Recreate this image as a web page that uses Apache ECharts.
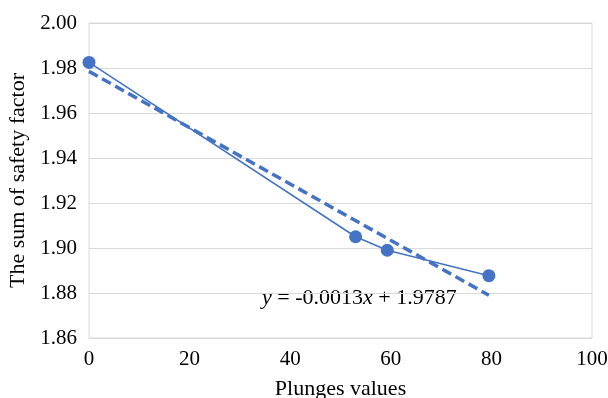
<!DOCTYPE html>
<html>
<head>
<meta charset="utf-8">
<script src="https://cdn.jsdelivr.net/npm/echarts@6/dist/echarts.min.js"></script>
<style>
  html, body { margin: 0; padding: 0; background: #fff; }
  #chart { width: 608px; height: 398px; }
</style>
</head>
<body>
<div id="chart"></div>
<script>
const plungeX = [0, 53, 59.3, 79.5]
const safetySum = [1.9825, 1.905, 1.899, 1.8877]
const trendX = [0, 79.5]
const trendY = [1.9785, 1.879]
const xTicks = [0, 20, 40, 60, 80, 100]
const yTicks = [1.86, 1.88, 1.90, 1.92, 1.94, 1.96, 1.98, 2.00]

const blue = '#4472c4'
const font = '"Liberation Serif", "Times New Roman", serif'

const chart = echarts.init(document.getElementById('chart'))
chart.setOption({
  animation: false,
  textStyle: { fontFamily: font },
  grid: {
    left: 89, right: 16, top: 23, bottom: 60, outerBoundsMode: 'none',
    show: true, borderColor: '#d9d9d9', borderWidth: 1
  },
  xAxis: {
    type: 'value', min: xTicks[0], max: xTicks[xTicks.length - 1], interval: 20,
    name: 'Plunges values', nameLocation: 'middle', nameGap: 40,
    nameTextStyle: { fontFamily: font, fontSize: 22, color: '#000' },
    axisLine: { show: false }, axisTick: { show: false },
    axisLabel: { fontFamily: font, fontSize: 21, color: '#000', margin: 11 },
    splitLine: { show: false }
  },
  yAxis: {
    type: 'value', min: yTicks[0], max: yTicks[yTicks.length - 1], interval: 0.02,
    name: 'The sum of safety factor', nameLocation: 'middle', nameGap: 58,
    nameTextStyle: { fontFamily: font, fontSize: 22, color: '#000' },
    axisLine: { show: false }, axisTick: { show: false },
    axisLabel: { fontFamily: font, fontSize: 21, color: '#000', margin: 12, formatter: v => v.toFixed(2) },
    splitLine: { lineStyle: { color: '#d9d9d9', width: 1 } }
  },
  series: [
    {
      type: 'line', data: plungeX.map((x, i) => [x, safetySum[i]]),
      symbol: 'circle', symbolSize: 13,
      lineStyle: { color: blue, width: 1.5 }, itemStyle: { color: blue }
    },
    {
      type: 'line', data: trendX.map((x, i) => [x, trendY[i]]),
      symbol: 'none',
      lineStyle: { color: blue, width: 3.5, type: [10, 5] }
    }
  ],
  graphic: [{
    type: 'text', left: 262, top: 287,
    style: {
      text: '{i|y} = -0.0013{i|x} + 1.9787',
      font: '22px ' + font, fill: '#000',
      rich: { i: { fontStyle: 'italic', fontFamily: font, fontSize: 22, fill: '#000' } }
    }
  }]
})
</script>
</body>
</html>
